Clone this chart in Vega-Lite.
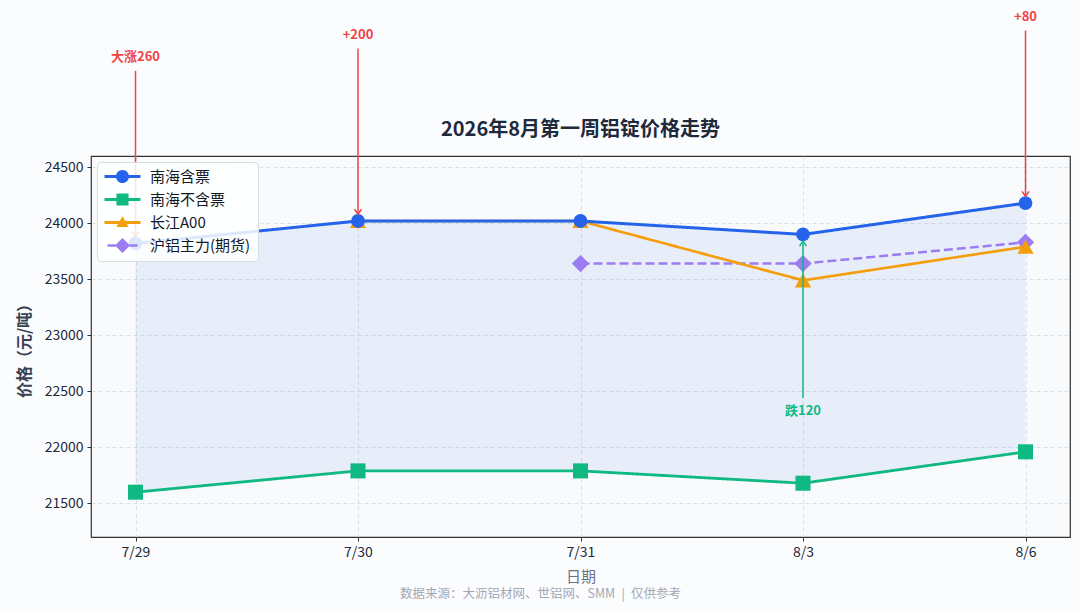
{
  "$schema": "https://vega.github.io/schema/vega-lite/v6.json",
  "autosize": "none",
  "width": 979,
  "height": 381,
  "padding": {"left": 91, "top": 156, "right": 10, "bottom": 75},
  "background": "#fbfcfe",
  "title": {
    "text": "2026年8月第一周铝锭价格走势",
    "font": "Noto Sans CJK SC",
    "fontSize": 20,
    "fontWeight": "bold",
    "color": "#1e293b",
    "anchor": "middle",
    "offset": 16,
    "dy": 145
  },
  "datasets": {
    "prices": [
      {"series": "沪铝主力(期货)", "date": "7/31", "price": 23640},
      {"series": "沪铝主力(期货)", "date": "8/3", "price": 23640},
      {"series": "沪铝主力(期货)", "date": "8/6", "price": 23830},
      {"series": "长江A00", "date": "7/30", "price": 24020},
      {"series": "长江A00", "date": "7/31", "price": 24020},
      {"series": "长江A00", "date": "8/3", "price": 23490},
      {"series": "长江A00", "date": "8/6", "price": 23790},
      {"series": "南海不含票", "date": "7/29", "price": 21600},
      {"series": "南海不含票", "date": "7/30", "price": 21790},
      {"series": "南海不含票", "date": "7/31", "price": 21790},
      {"series": "南海不含票", "date": "8/3", "price": 21680},
      {"series": "南海不含票", "date": "8/6", "price": 21960},
      {"series": "南海含票", "date": "7/29", "price": 23820},
      {"series": "南海含票", "date": "7/30", "price": 24020},
      {"series": "南海含票", "date": "7/31", "price": 24020},
      {"series": "南海含票", "date": "8/3", "price": 23900},
      {"series": "南海含票", "date": "8/6", "price": 24180}
    ],
    "notes": [
      {"date": "7/29", "label": "大涨260", "dir": "涨", "textY": 25480, "from": 25360, "to": 23880},
      {"date": "7/30", "label": "+200", "dir": "涨", "textY": 25680, "from": 25560, "to": 24080},
      {"date": "8/3", "label": "跌120", "dir": "跌", "textY": 22320, "from": 22440, "to": 23840},
      {"date": "8/6", "label": "+80", "dir": "涨", "textY": 25840, "from": 25720, "to": 24240}
    ]
  },
  "layer": [
    {
      "encoding": {
        "x": {
          "field": "date",
          "type": "ordinal",
          "scale": {"type": "point", "domain": ["7/29", "7/30", "7/31", "8/3", "8/6"], "padding": 0.2},
          "axis": {
            "title": "日期",
            "labelAngle": 0,
            "grid": true,
            "titleColor": "#6b7280",
            "titleFontSize": 15,
            "titleFontWeight": "normal",
            "titlePadding": 10
          }
        },
        "y": {
          "field": "price",
          "type": "quantitative",
          "scale": {"domain": [21200, 24600], "nice": false, "zero": false},
          "axis": {
            "title": "价格（元/吨）",
            "values": [21500, 22000, 22500, 23000, 23500, 24000, 24500],
            "format": "d",
            "grid": true,
            "titleFontSize": 16,
            "titleFontWeight": "bold",
            "titleColor": "#374151",
            "titlePadding": 12
          }
        }
      },
      "layer": [
        {
          "data": {"name": "prices"},
          "transform": [{"pivot": "series", "value": "price", "groupby": ["date"]}],
          "mark": {"type": "area", "color": "#2563eb", "opacity": 0.08},
          "encoding": {
            "y": {"field": "南海含票", "type": "quantitative", "title": "价格（元/吨）"},
            "y2": {"field": "南海不含票"}
          }
        },
        {
          "data": {"name": "prices"},
          "mark": {"type": "line"},
          "encoding": {
            "stroke": {
              "field": "series",
              "type": "nominal",
              "scale": {
                "domain": ["沪铝主力(期货)", "长江A00", "南海不含票", "南海含票"],
                "range": ["#9d7bf0", "#f59e0b", "#10b981", "#2563eb"]
              },
              "legend": null
            },
            "strokeDash": {
              "field": "series",
              "type": "nominal",
              "scale": {
                "domain": ["沪铝主力(期货)", "长江A00", "南海不含票", "南海含票"],
                "range": [[9, 4], [1, 0], [1, 0], [1, 0]]
              },
              "legend": null
            },
            "strokeWidth": {
              "field": "series",
              "type": "nominal",
              "scale": {
                "domain": ["沪铝主力(期货)", "长江A00", "南海不含票", "南海含票"],
                "range": [2.5, 3, 3, 3]
              },
              "legend": null
            }
          }
        },
        {
          "data": {"name": "prices"},
          "mark": {"type": "point", "filled": true, "opacity": 1},
          "encoding": {
            "color": {
              "field": "series",
              "type": "nominal",
              "scale": {
                "domain": ["南海含票", "南海不含票", "长江A00", "沪铝主力(期货)"],
                "range": ["#2563eb", "#10b981", "#f59e0b", "#9d7bf0"]
              },
              "legend": {
                "title": null,
                "orient": "top-left",
                "offset": 6,
                "padding": 7,
                "fillColor": "rgba(255,255,255,0.85)",
                "strokeColor": "#d9dde3",
                "cornerRadius": 4,
                "labelFontSize": 15,
                "labelColor": "#111827",
                "labelOffset": 31,
                "rowPadding": 7,
                "symbolSize": 196,
                "symbolStrokeWidth": 0,
                "symbolType": {
                  "expr": "datum.value === '南海含票' ? 'M-1,-0.21H4.14V0.21H-1Z M0.64,0A0.93,0.93 0 1,1 2.5,0A0.93,0.93 0 1,1 0.64,0Z' : datum.value === '南海不含票' ? 'M-1,-0.21H4.14V0.21H-1Z M0.71,-0.86H2.43V0.86H0.71Z' : datum.value === '长江A00' ? 'M-1,-0.21H4.14V0.21H-1Z M1.57,-0.9L2.45,0.64H0.69Z' : 'M-0.57,-0.18H0.57V0.18H-0.57Z M2.57,-0.18H3.71V0.18H2.57Z M1.57,-1.07L2.64,0L1.57,1.07L0.5,0Z'"
                }
              }
            },
            "shape": {
              "field": "series",
              "type": "nominal",
              "scale": {
                "domain": ["沪铝主力(期货)", "长江A00", "南海不含票", "南海含票"],
                "range": ["diamond", "triangle-up", "square", "circle"]
              },
              "legend": null
            },
            "size": {
              "field": "series",
              "type": "nominal",
              "scale": {
                "domain": ["沪铝主力(期货)", "长江A00", "南海不含票", "南海含票"],
                "range": [300, 190, 150, 190]
              },
              "legend": null
            }
          }
        },
        {
          "data": {"name": "notes"},
          "transform": [{"filter": "datum.dir === '涨'"}],
          "mark": {"type": "rule", "strokeWidth": 1.5, "color": "#ef4444"},
          "encoding": {
            "y": {"field": "from", "type": "quantitative", "title": "价格（元/吨）"},
            "y2": {"field": "to"}
          }
        },
        {
          "data": {"name": "notes"},
          "transform": [{"filter": "datum.dir === '跌'"}],
          "mark": {"type": "rule", "strokeWidth": 1.5, "color": "#10b981"},
          "encoding": {
            "y": {"field": "from", "type": "quantitative", "title": "价格（元/吨）"},
            "y2": {"field": "to"}
          }
        },
        {
          "data": {"name": "notes"},
          "transform": [{"filter": "datum.dir === '涨'"}],
          "mark": {"type": "point", "shape": "M-0.7,-1L0,0L0.7,-1", "filled": false, "size": 100, "strokeWidth": 1.5, "opacity": 1, "color": "#ef4444"},
          "encoding": {
            "y": {"field": "to", "type": "quantitative", "title": "价格（元/吨）"}
          }
        },
        {
          "data": {"name": "notes"},
          "transform": [{"filter": "datum.dir === '跌'"}],
          "mark": {"type": "point", "shape": "M-0.7,1L0,0L0.7,1", "filled": false, "size": 100, "strokeWidth": 1.5, "opacity": 1, "color": "#10b981"},
          "encoding": {
            "y": {"field": "to", "type": "quantitative", "title": "价格（元/吨）"}
          }
        }
      ]
    },
    {
      "data": {"name": "notes"},
      "mark": {"type": "text", "fontSize": 13, "fontWeight": "bold", "baseline": "middle", "align": "center"},
      "encoding": {
        "x": {
          "field": "date",
          "type": "ordinal",
          "scale": {"type": "point", "domain": ["7/29", "7/30", "7/31", "8/3", "8/6"], "padding": 0.2},
          "axis": {
            "orient": "bottom",
            "title": "数据来源：大沥铝材网、世铝网、SMM\u2002|\u2002仅供参考",
            "labels": false,
            "ticks": false,
            "domain": false,
            "grid": false,
            "titleFontSize": 12.5,
            "titleFontWeight": "normal",
            "titleColor": "#a3a8b3",
            "titlePadding": 50,
            "titleX": 449
          }
        },
        "y": {"field": "textY", "type": "quantitative", "title": "价格（元/吨）"},
        "text": {"field": "label"},
        "fill": {
          "field": "dir",
          "type": "nominal",
          "scale": {"domain": ["涨", "跌"], "range": ["#ef4444", "#10b981"]},
          "legend": null
        }
      }
    }
  ],
  "resolve": {"scale": {"x": "independent"}},
  "config": {
    "font": "Noto Sans CJK SC",
    "view": {"stroke": "#333333", "strokeWidth": 1.2, "fill": "#f8fafc"},
    "axis": {
      "labelFont": "Noto Sans CJK SC",
      "titleFont": "Noto Sans CJK SC",
      "labelFontSize": 14,
      "labelColor": "#1f2937",
      "tickColor": "#333333",
      "tickSize": 4,
      "labelPadding": 4,
      "domain": false,
      "gridColor": "#cbd5e1",
      "gridDash": [4, 3],
      "gridOpacity": 0.7
    },
    "legend": {"labelFont": "Noto Sans CJK SC"}
  }
}
